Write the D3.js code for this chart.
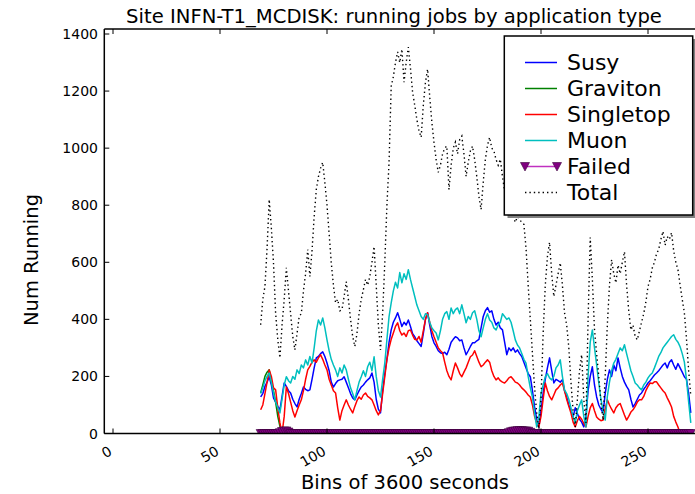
<!DOCTYPE html>
<html><head><meta charset="utf-8">
<script src="https://cdn.jsdelivr.net/npm/d3@7"></script>
<style>
body{margin:0;background:#fff;}
svg{display:block;font-family:"DejaVu Sans",sans-serif;}
</style></head><body>
<svg id="chart" width="695" height="494"></svg>
<script>
const bins = [69,70,71,72,73,74,75,76,77,78,79,80,81,82,83,84,85,86,87,88,89,90,91,92,93,94,95,96,97,98,99,100,101,102,103,104,105,106,107,108,109,110,111,112,113,114,115,116,117,118,119,120,121,122,123,124,125,126,127,128,129,130,131,132,133,134,135,136,137,138,139,140,141,142,143,144,145,146,147,148,149,150,151,152,153,154,155,156,157,158,159,160,161,162,163,164,165,166,167,168,169,170,171,172,173,174,175,176,177,178,179,180,181,182,183,184,185,186,187,188,189,190,191,192,193,194,195,196,197,198,199,200,201,202,203,204,205,206,207,208,209,210,211,212,213,214,215,216,217,218,219,220,221,222,223,224,225,226,227,228,229,230,231,232,233,234,235,236,237,238,239,240,241,242,243,244,245,246,247,248,249,250,251,252,253,254,255,256,257,258,259,260,261,262,263,264,265,266,267,268,269,270];

const total = [
381,470,515,650,820,720,598,420,330,265,
380,470,581,500,420,340,293,350,410,420,
500,560,645,550,640,760,855,900,930,950,
880,800,700,598,520,458,470,430,434,480,
532,470,400,340,305,350,420,470,504,540,
520,550,600,655,520,380,293,420,598,800,
950,1217,1250,1300,1337,1300,1347,1231,1300,1354,
1280,1196,1150,1100,1060,1038,1150,1230,1277,1180,
1091,1020,960,915,940,980,1000,1007,855,940,
1000,1021,980,1030,1042,980,901,950,990,1007,
960,900,830,785,880,960,1010,1038,1000,990,
960,940,961,900,850,820,790,770,760,740,
760,750,740,733,650,520,400,280,160,70,
15,120,350,520,620,670,560,480,520,560,
598,520,423,380,300,180,80,23,120,220,
276,120,37,400,687,540,363,280,200,110,
47,200,380,520,609,560,528,590,560,600,
637,520,430,363,380,340,328,360,390,420,
460,515,540,580,600,630,645,680,708,660,
690,680,704,640,600,574,520,470,423,330,
220,130];

const muon = [
140,160,185,200,212,180,142,110,90,72,
120,170,199,185,177,200,190,223,210,240,
230,258,240,270,247,300,360,398,380,405,
370,328,290,260,240,223,200,230,212,240,
223,190,160,140,118,150,180,199,220,200,
234,250,220,269,200,150,128,190,247,330,
410,458,500,530,510,564,528,560,540,574,
540,510,480,450,430,410,400,420,416,390,
370,360,352,328,360,400,420,427,400,440,
420,434,440,420,451,420,388,410,400,423,
430,400,360,339,370,400,420,398,390,370,
363,380,390,420,410,400,405,390,360,328,
310,300,280,260,247,200,160,128,70,23,
60,140,170,199,210,195,188,200,230,240,
258,200,153,140,120,90,60,37,80,100,
118,60,23,200,320,363,300,240,177,120,
80,47,130,180,220,247,260,280,300,290,
311,280,250,220,200,177,170,160,153,170,
180,195,205,212,230,250,270,283,300,310,
320,330,340,346,330,320,304,280,250,188,
110,37];

const susy = [
128,140,165,180,199,170,125,110,95,83,
130,177,165,150,142,120,105,93,120,140,
163,155,150,153,190,230,265,270,280,286,
270,247,220,180,163,175,185,188,190,199,
180,160,140,125,118,135,150,163,170,180,
188,195,212,180,120,85,72,150,210,260,
320,363,390,405,423,400,375,390,380,398,
375,350,339,325,315,305,350,400,423,380,
340,318,305,290,283,280,285,276,295,320,
330,339,335,325,328,300,276,290,305,318,
318,325,330,370,410,430,441,425,430,400,
380,390,370,363,320,276,300,290,300,285,
293,280,270,250,230,210,199,150,93,50,
23,80,142,190,230,265,220,177,190,185,
180,188,150,128,100,80,58,90,70,50,
40,23,60,150,200,234,170,128,100,85,
72,140,190,223,200,240,220,265,230,200,
180,165,153,120,93,105,120,135,142,155,
165,177,185,195,205,212,220,230,240,247,
230,250,258,240,225,245,230,215,199,190,
140,72];

const singletop = [
83,100,140,180,223,200,160,153,90,37,
0,60,163,140,110,80,58,80,100,118,
150,190,223,235,250,258,250,265,276,260,
240,223,190,170,150,142,90,47,80,100,
118,100,85,72,95,115,128,120,135,142,
130,125,118,100,80,65,80,140,199,260,
300,330,352,375,388,360,345,352,340,360,
363,345,330,328,340,320,360,400,423,390,
360,339,320,300,290,283,250,220,200,188,
220,247,230,210,199,215,230,250,269,275,
290,270,250,234,240,250,258,250,220,200,
188,195,185,180,177,185,195,199,190,180,
177,170,160,153,145,135,128,100,60,37,
23,60,120,177,150,130,118,135,153,160,
170,177,150,120,95,72,40,23,45,60,
50,35,23,60,90,105,80,58,50,45,
47,85,118,100,85,72,90,100,105,85,
65,47,60,75,83,95,110,118,118,130,
150,165,177,175,181,181,170,160,150,142,
125,110,93,60,40,23,0,0,0,0,
0,0];

const graviton = [
142,170,200,215,223,180,150,110,60,25,
0,0,0,0,0,0,0,0,0,0,
0,0,0,0,0,0,0,0,0,0,
0,0,0,0,0,0,0,0,0,0,
0,0,0,0,0,0,0,0,0,0,
0,0,0,0,0,0,0,0,0,0,
0,0,0,0,0,0,0,0,0,0,
0,0,0,0,0,0,0,0,0,0,
0,0,0,0,0,0,0,0,0,0,
0,0,0,0,0,0,0,0,0,0,
0,0,0,0,0,0,0,0,0,0,
0,0,0,0,0,0,0,0,0,0,
0,0,0,0,0,0,0,0,0,0,
0,0,0,0,0,0,0,0,0,0,
0,0,0,0,0,0,0,0,0,0,
0,0,0,0,0,0,0,0,0,0,
0,0,0,0,0,0,0,0,0,0,
0,0,0,0,0,0,0,0,0,0,
0,0,0,0,0,0,0,0,0,0,
0,0,0,0,0,0,0,0,0,0,
0,0];

const failed = [
0,0,0,0,0,0,0,0,0,3,
7,9,9,5,0,0,0,0,0,0,
0,0,0,0,0,0,0,0,0,0,
0,0,0,0,0,0,0,0,0,0,
0,0,0,0,0,0,0,0,0,0,
0,0,0,0,0,0,0,0,0,0,
0,0,0,0,0,0,0,0,0,0,
0,0,0,0,0,0,0,0,0,0,
0,0,0,0,0,0,0,0,0,0,
0,0,0,0,0,0,0,0,0,0,
0,0,0,0,0,0,0,0,0,0,
0,0,0,0,0,0,3,6,8,9,
10,10,10,9,9,8,4,0,0,0,
0,0,0,0,0,0,0,0,0,0,
0,0,0,0,0,0,0,0,0,0,
0,0,0,0,0,0,0,0,0,0,
0,0,0,0,0,0,0,0,0,0,
0,0,0,0,0,0,0,0,0,0,
0,0,0,0,0,0,0,0,0,0,
0,0,0,0,0,0,0,0,0,0,
0,0];

const xTicks = [0,50,100,150,200,250];
const yTicks = [0,200,400,600,800,1000,1200,1400];
const titleText = "Site INFN-T1_MCDISK: running jobs by application type";
const xLabel = "Bins of 3600 seconds";
const yLabel = "Num Running";
const seriesNames = ["Susy","Graviton","Singletop","Muon","Failed","Total"];

const svg = d3.select("#chart");
const L = 104.3, R = 700, T = 29, B = 433.5;
const x = d3.scaleLinear().domain([0,250]).range([113,648]);
const y = d3.scaleLinear().domain([0,1400]).range([433.5,34]);

svg.append("defs").append("clipPath").attr("id","pc")
  .append("rect").attr("x",L).attr("y",T).attr("width",R-L).attr("height",B-T);

const plot = svg.append("g").attr("clip-path","url(#pc)");
const line = d3.line().x((d,i)=>x(bins[i])).y(d=>y(d));

const styles = {
  Susy:{data:susy,color:"#0000ff",w:1.5},
  Graviton:{data:graviton,color:"#008000",w:1.5},
  Singletop:{data:singletop,color:"#ff0000",w:1.5},
  Muon:{data:muon,color:"#00bfbf",w:1.5},
};
["Susy","Graviton","Singletop","Muon"].forEach(n=>{
  plot.append("path").datum(styles[n].data).attr("d",line)
    .attr("fill","none").attr("stroke",styles[n].color).attr("stroke-width",styles[n].w)
    .attr("stroke-linejoin","round");
});
// Failed
const tri = "M-4.5,-4 L4.5,-4 L0,4.5 Z";
plot.append("path").datum(failed).attr("d",line).attr("fill","none")
  .attr("stroke","#c030c0").attr("stroke-width",1.5);
plot.selectAll(".fm").data(failed).enter().append("path")
  .attr("d",tri).attr("transform",(d,i)=>`translate(${x(bins[i])},${y(d)})`)
  .attr("fill","#800080").attr("stroke","#3a003a").attr("stroke-width",0.6);
// Total
plot.append("path").datum(total).attr("d",line).attr("fill","none")
  .attr("stroke","#000").attr("stroke-width",1.4).attr("stroke-dasharray","1.4,3");

// axes frame
const ax = svg.append("g").attr("stroke","#000").attr("stroke-width",1.5).attr("fill","none");
ax.append("line").attr("x1",L).attr("x2",R).attr("y1",B).attr("y2",B);
ax.append("line").attr("x1",L).attr("x2",R).attr("y1",T).attr("y2",T);
ax.append("line").attr("x1",L).attr("x2",L).attr("y1",T).attr("y2",B);
// ticks
xTicks.forEach(t=>{
  ax.append("line").attr("x1",x(t)).attr("x2",x(t)).attr("y1",B).attr("y2",B-5).attr("stroke-width",1);
  ax.append("line").attr("x1",x(t)).attr("x2",x(t)).attr("y1",T).attr("y2",T+5).attr("stroke-width",1);
});
yTicks.forEach(t=>{
  ax.append("line").attr("x1",L).attr("x2",L+5).attr("y1",y(t)).attr("y2",y(t)).attr("stroke-width",1);
});
// tick labels
svg.append("g").selectAll("text").data(xTicks).enter().append("text")
  .attr("text-anchor","end").attr("font-size",14)
  .attr("transform",t=>`translate(${x(t)},454) rotate(-30)`).text(t=>t);
svg.append("g").selectAll("text").data(yTicks).enter().append("text")
  .attr("text-anchor","end").attr("font-size",14).attr("x",98).attr("y",t=>y(t)).attr("dy","0.36em").text(t=>t);

svg.append("text").attr("x",394).attr("y",23).attr("text-anchor","middle").attr("font-size",19.6).text(titleText);
svg.append("text").attr("x",405).attr("y",489).attr("text-anchor","middle").attr("font-size",19.5).text(xLabel);
svg.append("text").attr("transform","translate(38,260) rotate(-90)").attr("text-anchor","middle").attr("font-size",19.5).text(yLabel);

// legend
const lg = svg.append("g");
lg.append("rect").attr("x",507.5).attr("y",39).attr("width",188.4).attr("height",179).attr("fill","#808080");
lg.append("rect").attr("x",504.3).attr("y",36).attr("width",188.4).attr("height",179).attr("fill","#fff").attr("stroke","#000").attr("stroke-width",1.5);
seriesNames.forEach((n,i)=>{
  const yy = 62.5 + i*26;
  const g = lg.append("g");
  if(n==="Failed"){
    g.append("line").attr("x1",525).attr("x2",557).attr("y1",yy).attr("y2",yy).attr("stroke","#c030c0").attr("stroke-width",1.5);
    [525,557].forEach(xx=>g.append("path").attr("d",tri).attr("transform",`translate(${xx},${yy})`).attr("fill","#800080").attr("stroke","#3a003a").attr("stroke-width",0.6));
  } else if(n==="Total"){
    g.append("line").attr("x1",525).attr("x2",557).attr("y1",yy).attr("y2",yy).attr("stroke","#000").attr("stroke-width",1.4).attr("stroke-dasharray","1.4,3");
  } else {
    g.append("line").attr("x1",525).attr("x2",557).attr("y1",yy).attr("y2",yy).attr("stroke",styles[n].color).attr("stroke-width",1.5);
  }
  g.append("text").attr("x",567).attr("y",yy+7).attr("font-size",22).text(n);
});
</script>
</body></html>
